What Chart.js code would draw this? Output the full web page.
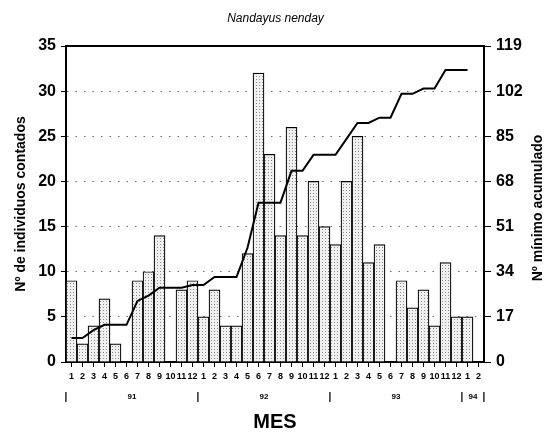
<!DOCTYPE html>
<html>
<head>
<meta charset="utf-8">
<script src="https://cdn.jsdelivr.net/npm/chart.js@4"></script>
<style>
  body { margin: 0; background: #fff; }
  canvas { display: block; }
</style>
</head>
<body>
<canvas id="chart" width="551" height="434"></canvas>
<script>
// months Jan 1991 .. Feb 1994
const months = ['1','2','3','4','5','6','7','8','9','10','11','12',
                '1','2','3','4','5','6','7','8','9','10','11','12',
                '1','2','3','4','5','6','7','8','9','10','11','12',
                '1','2'];
const yearLabels = ['91', '92', '93', '94'];
const yearStarts = [0, 12, 24, 36];

// Nº de individuos contados (bars, left axis)
const counts = [9, 2, 4, 7, 2, 0, 9, 10, 14, 0, 8, 9,
                5, 8, 4, 4, 12, 32, 23, 14, 26, 14, 20, 15,
                13, 20, 25, 11, 13, 0, 9, 6, 8, 4, 11, 5,
                5, 0];

// Nº mínimo acumulado (line, right axis)
const cumulative = [9, 9, 12, 14, 14, 14, 23, 25, 28, 28, 28, 29,
                    29, 32, 32, 32, 43, 60, 60, 60, 72, 72, 78, 78,
                    78, 84, 90, 90, 92, 92, 101, 101, 103, 103, 110, 110,
                    110, null];

const leftMax = 35, leftStep = 5;
const rightMax = 119, rightStep = 17;

const FONT = "'Liberation Sans', Arial, sans-serif";

// dotted fill for the bars
function dotPattern() {
  const c = document.createElement('canvas');
  c.width = 3; c.height = 3;
  const g = c.getContext('2d');
  g.fillStyle = '#f0f0f0';
  g.fillRect(0, 0, 3, 3);
  g.fillStyle = '#8f8f8f';
  g.fillRect(1, 1, 1, 1);
  return g.createPattern(c, 'repeat');
}

// frame top, year row and right-hand axis title
const extras = {
  id: 'extras',
  afterDraw(chart) {
    const { ctx, chartArea } = chart;
    const x = chart.scales.x;
    const slot = x.getPixelForValue(1) - x.getPixelForValue(0);

    ctx.save();
    ctx.strokeStyle = '#000';
    ctx.lineWidth = 2;
    ctx.beginPath();
    ctx.moveTo(chartArea.left - 1, chartArea.top);
    ctx.lineTo(chartArea.right + 1, chartArea.top);
    ctx.stroke();

    ctx.fillStyle = '#000';
    ctx.textAlign = 'center';
    ctx.textBaseline = 'middle';
    const rowY = 397;
    const edges = yearStarts.map(i => x.getPixelForValue(i) - slot / 2);
    edges.push(x.getPixelForValue(months.length - 1) + slot / 2);
    ctx.font = 'bold 10px ' + FONT;
    edges.forEach(px => ctx.fillText('|', px, rowY));
    ctx.font = 'bold 8px ' + FONT;
    yearLabels.forEach((lab, i) => {
      ctx.fillText(lab, (edges[i] + edges[i + 1]) / 2, rowY);
    });

    ctx.translate(538, (chartArea.top + chartArea.bottom) / 2 + 4);
    ctx.rotate(-Math.PI / 2);
    ctx.font = 'bold 14px ' + FONT;
    ctx.fillText('Nº mínimo acumulado', 0, 0);
    ctx.restore();
  }
};

new Chart(document.getElementById('chart'), {
  type: 'bar',
  data: {
    labels: months,
    datasets: [
      {
        type: 'line',
        data: cumulative,
        yAxisID: 'y1',
        borderColor: '#000',
        borderWidth: 2,
        pointRadius: 0,
        tension: 0,
        order: 0
      },
      {
        data: counts,
        yAxisID: 'y',
        backgroundColor: dotPattern(),
        borderColor: '#000',
        borderWidth: 1.2,
        categoryPercentage: 1,
        barPercentage: 1,
        order: 1
      }
    ]
  },
  options: {
    responsive: false,
    animation: false,
    layout: { padding: 0 },
    plugins: {
      legend: { display: false },
      tooltip: { enabled: false },
      title: {
        display: true,
        text: 'Nandayus nenday',
        color: '#000',
        font: { family: FONT, size: 12, style: 'italic', weight: 'normal' },
        padding: { top: 11, bottom: 20.6 }
      }
    },
    scales: {
      x: {
        afterFit: s => { s.height = 72; },
        grid: { drawOnChartArea: false, offset: false, tickLength: 5, color: '#000', lineWidth: 1 },
        border: { color: '#000', width: 2 },
        ticks: {
          color: '#000',
          autoSkip: false,
          maxRotation: 0,
          padding: 4,
          font: { family: FONT, size: 9, weight: 'bold' }
        },
        title: {
          display: true,
          text: 'MES',
          color: '#000',
          font: { family: FONT, size: 20, weight: 'bold' },
          padding: { top: 0, bottom: 0 }
        }
      },
      y: {
        position: 'left',
        min: 0,
        max: leftMax,
        afterFit: s => { s.width = 66; },
        grid: {
          color: c => (c.tick && (c.tick.value === 0 || c.tick.value === leftMax)) ? 'rgba(0,0,0,0)' : '#6a6a6a',
          tickColor: '#000',
          tickLength: 5,
          lineWidth: 1
        },
        border: { color: '#000', width: 2, dash: [1.5, 7] },
        ticks: {
          stepSize: leftStep,
          color: '#000',
          padding: 5,
          font: { family: FONT, size: 16, weight: 'bold' }
        },
        title: {
          display: true,
          text: 'Nº de individuos contados',
          color: '#000',
          font: { family: FONT, size: 14, weight: 'bold' },
          padding: { top: 13, bottom: 0 }
        }
      },
      y1: {
        position: 'right',
        min: 0,
        max: rightMax,
        afterFit: s => { s.width = 67; },
        grid: { drawOnChartArea: false, tickLength: 7, color: '#000' },
        border: { color: '#000', width: 2 },
        ticks: {
          stepSize: rightStep,
          color: '#000',
          padding: 5,
          font: { family: FONT, size: 16, weight: 'bold' }
        }
      }
    }
  },
  plugins: [extras]
});
</script>
</body>
</html>
